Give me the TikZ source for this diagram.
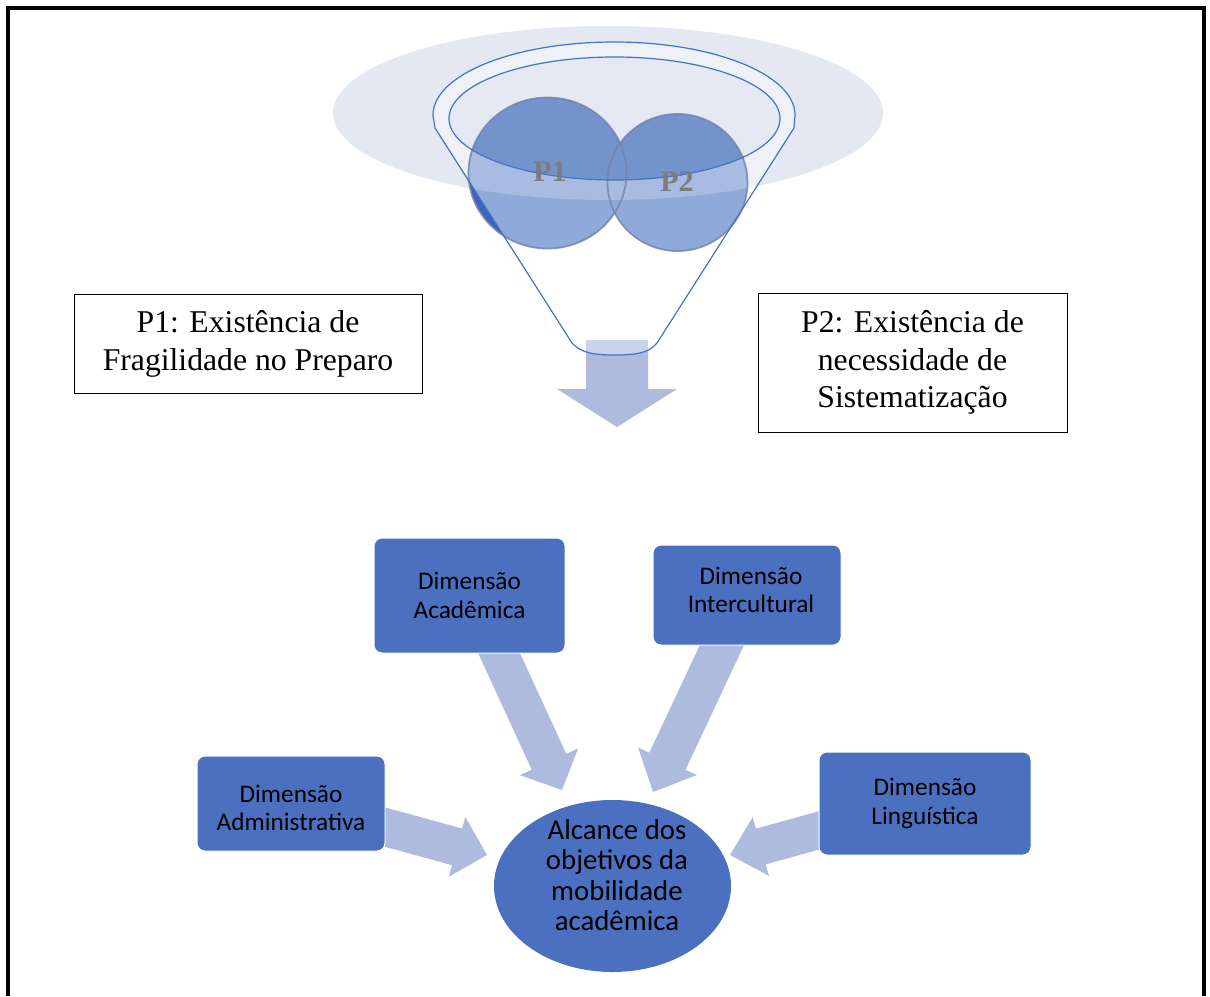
\documentclass[tikz,border=0pt]{standalone}
\usepackage{fontspec}
\setmainfont{Liberation Serif}
\newfontfamily\calibrifont{Carlito}
\usetikzlibrary{calc,shapes.geometric}
\definecolor{dimblue}{HTML}{4A70BF}
\definecolor{arrowblue}{HTML}{AEBBDF}
\definecolor{arrowlight}{HTML}{CAD3EC}
\definecolor{funline}{HTML}{4472C4}
\definecolor{bigell}{HTML}{E3E8F3}
\definecolor{ringcol}{HTML}{EEF1F8}
\definecolor{innercol}{HTML}{E5E9F4}
\definecolor{circdark}{HTML}{3B66BB}
\definecolor{circmid}{HTML}{8FA9D9}
\definecolor{circband}{HTML}{A9BBE0}
\definecolor{circtop}{HTML}{7393CC}
\definecolor{circedge}{HTML}{7483AD}
\definecolor{ptgray}{HTML}{7C7C7C}
\newcommand\blockarrow[6]{%
  \coordinate (#1-h) at ($(#3)!#6!(#2)$);
  \fill[arrowfill] ($(#2)!#4!90:(#3)$) -- ($(#1-h)!#4!90:(#3)$) -- ($(#1-h)!#5!90:(#3)$) -- (#3)
     -- ($(#1-h)!#5!-90:(#3)$) -- ($(#1-h)!#4!-90:(#3)$) -- ($(#2)!#4!-90:(#3)$) -- cycle;}
\tikzset{
  serifbox/.style={draw=black, line width=1pt, align=center, inner sep=0pt,
    font=\fontsize{31.7}{37.8}\selectfont},
  dimbox/.style={fill=dimblue, draw=white, line width=1pt, rounded corners=8pt, align=center,
    inner sep=0pt, font=\calibrifont\fontsize{25.3}{28.5}\selectfont},
  dimtext/.style={font=\calibrifont\fontsize{25.3}{28.5}\selectfont, align=center, inner sep=0pt},
  goal/.style={ellipse, fill=dimblue, inner sep=0pt},
  goaltext/.style={align=center, inner sep=0pt, font=\calibrifont\fontsize{28.8}{30.3}\selectfont},
  arrowfill/.style={fill=arrowblue},
  ptext/.style={font=\bfseries\fontsize{30}{30}\selectfont, text=ptgray, inner sep=0pt},
  funstroke/.style={draw=funline, line width=1.2pt},
}
\def\myfunnel{(435,128) -- (433,115) arc[start angle=180,end angle=0,x radius=181pt,y radius=73pt] -- (794,128) -- (657,343) .. controls (649,353) and (636,355) .. (615,355) .. controls (594,355) and (581,353) .. (572,343) -- cycle}
\def\mybigell{(608,113) ellipse [x radius=275pt, y radius=87pt]}
\def\myinnerell{(614.5,118.5) ellipse [x radius=165.5pt, y radius=61.5pt]}
\def\mycircA{(547.5,173) ellipse [x radius=79pt, y radius=75.5pt]}
\def\mycircB{(677.5,182.5) ellipse [x radius=70pt, y radius=68.5pt]}
\begin{document}
\begin{tikzpicture}[x=1pt,y=-1pt]
\useasboundingbox (0,0) rectangle (1210,996);
\fill[white] (0,0) rectangle (1210,996);
\draw[line width=3.5pt] (8,996) -- (8,8) -- (1204,8) -- (1204,996);

% ---------- funnel ----------
\fill[bigell] \mybigell;
\begin{scope}
  \clip \mybigell;
  \fill[ringcol] \myfunnel;
  \fill[innercol] \myinnerell;
\end{scope}
\fill[circdark] \mycircA;
\fill[circmid] \mycircB;
\begin{scope}
  \clip \myfunnel;
  \fill[circmid] \mycircA;
  \fill[circmid] \mycircB;
  \begin{scope}
    \clip \mybigell;
    \fill[circband] \mycircA;
    \fill[circband] \mycircB;
  \end{scope}
\end{scope}
\begin{scope}
  \clip \myinnerell;
  \fill[circtop] \mycircA;
  \fill[circtop] \mycircB;
\end{scope}
\draw[circedge, line width=1.8pt, opacity=0.8] \mycircA;
\draw[circedge, line width=1.8pt, opacity=0.8] \mycircB;

% down arrow
\coordinate (fa-s) at (617,348);
\coordinate (fa-t) at (617,427);
\blockarrow{fa}{fa-s}{fa-t}{31pt}{60pt}{38pt}
\begin{scope}
  \clip \myfunnel;
  \fill[arrowlight] (586,340) rectangle (648,360);
\end{scope}

\draw[funstroke] \myfunnel;
\draw[funstroke] \myinnerell;

\node[ptext] (p1lbl) at (550,172) {P1};
\node[ptext] (p2lbl) at (677,182) {P2};

% ---------- text boxes ----------
\node[serifbox, minimum width=348pt, minimum height=99pt] (p1box) at (248,343.5)
  {P1: Existência de\\Fragilidade no Preparo};
\node[serifbox, minimum width=309pt, minimum height=139pt] (p2box) at (912.5,362.5)
  {P2: Existência de\\necessidade de\\Sistematização};

% ---------- dimension arrows ----------
\coordinate (aca-s) at (493,640);
\coordinate (aca-t) at (562,790);
\coordinate (int-s) at (729,630);
\coordinate (int-t) at (653,792);
\coordinate (adm-s) at (370,823);
\coordinate (adm-t) at (487,855);
\coordinate (lin-s) at (835,826);
\coordinate (lin-t) at (730,855);
\blockarrow{aca}{aca-s}{aca-t}{19pt}{32pt}{31pt}
\blockarrow{int}{int-s}{int-t}{20pt}{32.5pt}{34pt}
\blockarrow{adm}{adm-s}{adm-t}{19pt}{31pt}{31pt}
\blockarrow{lin}{lin-s}{lin-t}{18.5pt}{30.5pt}{32pt}

% ---------- dimension boxes ----------
\node[dimbox, minimum width=191pt, minimum height=115pt] (aca) at (469.5,595.5) {Dimensão\\Acadêmica};
\node[dimbox, minimum width=188pt, minimum height=100pt] (int) at (747,595) {};
\node[dimtext] (inttxt) at (751,590) {Dimensão\\Intercultural};
\node[dimbox, minimum width=188pt, minimum height=95pt] (adm) at (291,803.5) {};
\node[dimtext] (admtxt) at (291,808) {Dimensão\\Administrativa};
\node[dimbox, minimum width=212pt, minimum height=103pt] (lin) at (925,803.5) {Dimensão\\Linguística};

\node[goal, minimum width=237pt, minimum height=172pt] (goal) at (612.5,886) {};
\node[goaltext] (goaltxt) at (617,875) {Alcance dos\\objetivos da\\mobilidade\\acadêmica};
\end{tikzpicture}
\end{document}
